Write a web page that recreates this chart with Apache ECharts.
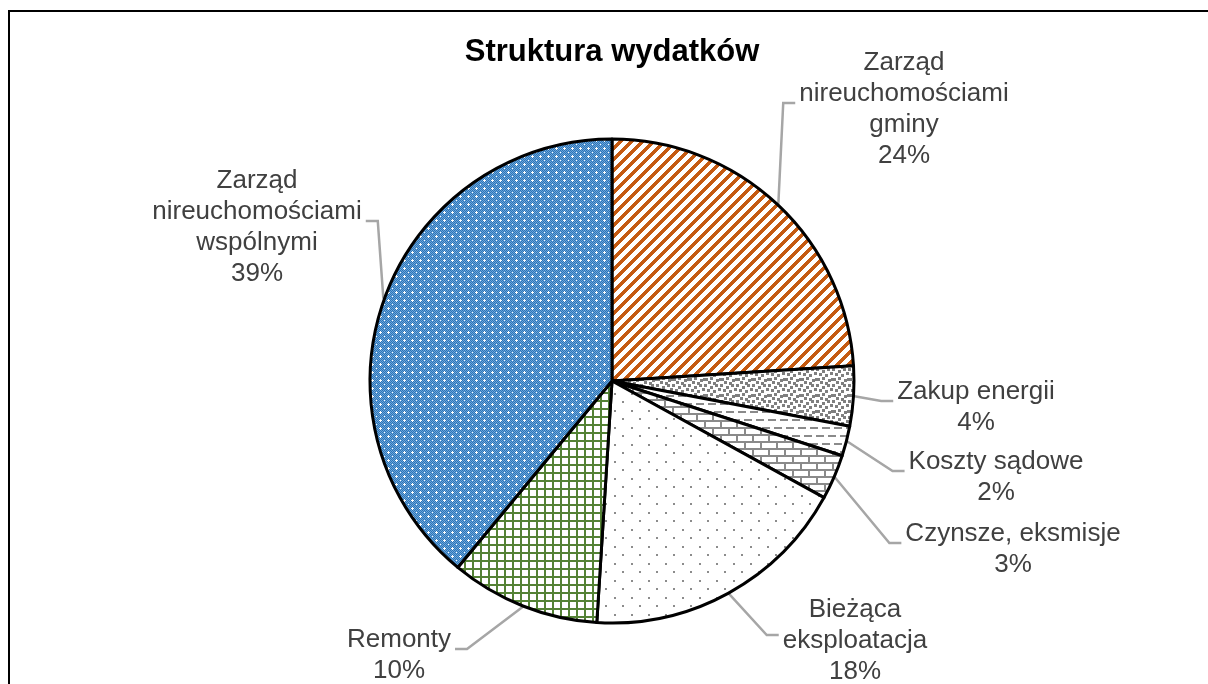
<!DOCTYPE html>
<html lang="pl">
<head>
<meta charset="utf-8">
<title>Struktura wydatków</title>
<script src="https://cdn.jsdelivr.net/npm/echarts@6/dist/echarts.min.js"></script>
<style>
  html, body { margin: 0; padding: 0; background: #fff; }
  #chart { width: 1208px; height: 684px; }
</style>
</head>
<body>
<div id="chart"></div>
<script>
// ============ Data ============
const categories = [
  'Zarząd\nnireuchomościami\ngminy',
  'Zakup energii',
  'Koszty sądowe',
  'Czynsze, eksmisje',
  'Bieżąca\neksploatacja',
  'Remonty',
  'Zarząd\nnireuchomościami\nwspólnymi'
]
const shares = [24, 4, 2, 3, 18, 10, 39]

// ============ Layout ============
const CX = 612
const CY = 381
const R = 242
// centre of every label block, same order as categories
const labelCentres = [
  [904, 109], [976, 407], [996, 477], [1013, 549],
  [855, 641], [399, 655], [257, 227]
]

// ============ Fill patterns (Excel-like hatches) ============
function makeTile(w, h, paint) {
  const c = document.createElement('canvas')
  c.width = w
  c.height = h
  const g = c.getContext('2d')
  g.fillStyle = '#fff'
  g.fillRect(0, 0, w, h)
  paint(g, w, h)
  return c
}

// rect that wraps round the tile edges
function box(g, w, h, color, x, y, bw, bh) {
  g.fillStyle = color
  g.fillRect(x, y, bw, bh)
  g.fillRect(x - w, y, bw, bh)
  g.fillRect(x, y - h, bw, bh)
  g.fillRect(x - w, y - h, bw, bh)
}

const orangeStripes = makeTile(11, 11, (g, w, h) => {
  g.fillStyle = '#c55a11'
  for (let y = 0; y < h; y++) {
    for (let x = 0; x < w; x++) {
      if ((x + y) % 11 < 5) g.fillRect(x, y, 1, 1)
    }
  }
})

const greyConfetti = makeTile(16, 16, (g, w, h) => {
  const spots = [
    [0, 0], [6, 2], [11, 0], [3, 5], [9, 6], [14, 4],
    [1, 10], [6, 9], [12, 11], [4, 13], [9, 14], [15, 10]
  ]
  spots.forEach(([x, y]) => box(g, w, h, '#7f7f7f', x, y, 3, 3))
})

const greyDashes = makeTile(12, 16, (g, w, h) => {
  box(g, w, h, '#8a8a8a', 0, 3, 8, 2)
  box(g, w, h, '#8a8a8a', 6, 11, 8, 2)
})

const greyBricks = makeTile(16, 14, (g, w, h) => {
  box(g, w, h, '#8a8a8a', 0, 0, 16, 2)
  box(g, w, h, '#8a8a8a', 0, 7, 16, 2)
  box(g, w, h, '#8a8a8a', 0, 0, 2, 7)
  box(g, w, h, '#8a8a8a', 8, 7, 2, 7)
})

const greyDots = makeTile(17, 17, (g, w, h) => {
  box(g, w, h, '#8c8c8c', 2, 2, 2, 2)
  box(g, w, h, '#8c8c8c', 10, 10, 2, 2)
})

const greenGrid = makeTile(8, 8, (g, w, h) => {
  box(g, w, h, '#548235', 0, 0, 8, 2)
  box(g, w, h, '#548235', 0, 0, 2, 8)
})

const blueChecker = makeTile(8, 8, (g, w, h) => {
  for (let y = 0; y < h; y++) {
    for (let x = 0; x < w; x++) {
      g.fillStyle = (x + y) % 2 === 0 ? '#2e75b6' : '#6aa5dc'
      g.fillRect(x, y, 1, 1)
    }
  }
  g.fillStyle = '#fff'
  g.fillRect(4, 3, 1, 3)
  g.fillRect(3, 4, 3, 1)
  g.fillRect(0, 0, 1, 1)
})

const fills = [orangeStripes, greyConfetti, greyDashes, greyBricks, greyDots, greenGrid, blueChecker]

// ============ Chart ============
const total = shares.reduce((a, b) => a + b, 0)

function anchorOf(idx) {
  let before = 0
  for (let i = 0; i < idx; i++) before += shares[i]
  const mid = (before + shares[idx] / 2) / total * Math.PI * 2
  const a = Math.PI / 2 - mid
  return [CX + (R + 1) * Math.cos(a), CY - (R + 1) * Math.sin(a)]
}

const chart = echarts.init(document.getElementById('chart'), null, { renderer: 'canvas' })

chart.setOption({
  animation: false,
  title: {
    text: 'Struktura wydatków',
    left: 612,
    top: 37,
    textAlign: 'center',
    padding: 0,
    textStyle: {
      fontFamily: 'Liberation Sans, Arial, sans-serif',
      fontSize: 31,
      fontWeight: 'bold',
      color: '#000'
    }
  },
  graphic: [
    {
      type: 'rect',
      z: -10,
      silent: true,
      shape: { x: 9, y: 11, width: 1400, height: 1000 },
      style: { fill: 'none', stroke: '#000', lineWidth: 2 }
    }
  ],
  series: [
    {
      type: 'pie',
      center: [CX, CY],
      radius: R,
      startAngle: 90,
      clockwise: true,
      avoidLabelOverlap: false,
      itemStyle: { borderColor: '#000', borderWidth: 3 },
      emphasis: { disabled: true },
      label: {
        show: true,
        position: 'outside',
        formatter: (p) => p.name + '\n' + Math.round(p.percent) + '%',
        fontFamily: 'Liberation Sans, Arial, sans-serif',
        fontSize: 26,
        lineHeight: 31,
        color: '#404040'
      },
      labelLine: {
        show: true,
        lineStyle: { color: '#a6a6a6', width: 2.5 }
      },
      labelLayout: (params) => {
        const idx = params.dataIndex
        const [lx, ly] = labelCentres[idx]
        const half = params.labelRect.width / 2
        const anchor = anchorOf(idx)
        let attach, elbow
        if (lx > CX) {
          attach = [lx - half - 4, ly - 6]
          elbow = [attach[0] - 12, attach[1]]
        } else {
          attach = [lx + half + 4, ly - 6]
          elbow = [attach[0] + 12, attach[1]]
        }
        return {
          x: lx,
          y: ly,
          align: 'center',
          verticalAlign: 'middle',
          labelLinePoints: [anchor, elbow, attach]
        }
      },
      data: categories.map((name, i) => ({
        name,
        value: shares[i],
        itemStyle: { color: { image: fills[i], repeat: 'repeat' } }
      }))
    }
  ]
})
</script>
</body>
</html>
